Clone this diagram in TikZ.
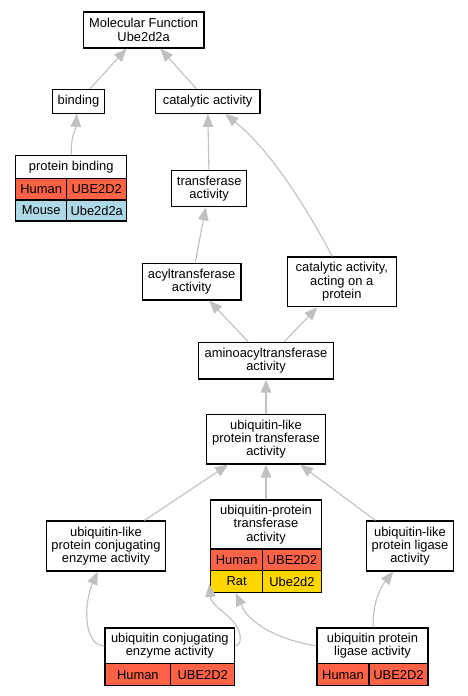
\documentclass[tikz,border=0pt]{standalone}
\usepackage{fontspec}
\setmainfont{Liberation Sans}
\usetikzlibrary{arrows.meta,calc}
\definecolor{edgegray}{HTML}{C0C0C0}
\definecolor{human}{HTML}{FF6347}
\definecolor{mouse}{HTML}{ADD8E6}
\definecolor{rat}{HTML}{FFD700}
\newcommand{\gofont}{\fontsize{12.9pt}{13.3pt}\selectfont}
\begin{document}
\begin{tikzpicture}[x=1pt,y=-1pt,
  box/.style={draw=black, line width=1.2pt, fill=white, align=center, inner sep=0pt, font=\gofont},
  cell/.style={draw=black, line width=1.2pt, inner sep=0pt, font=\gofont},
  edge/.style={draw=edgegray, line width=1.1pt, -{Triangle[length=13pt,width=10.5pt]}},
]
\useasboundingbox[fill=white] (0,0) rectangle (468,696);

% simple boxes
\node[box, minimum width=120.7pt, minimum height=36pt] (mf) at (143.65,30) {Molecular Function\\Ube2d2a};
\node[box, minimum width=51.6pt, minimum height=23.8pt] (bind) at (78.5,101.4) {binding};
\node[box, minimum width=104.7pt, minimum height=23.8pt] (cat) at (207.65,101.4) {catalytic activity};
\node[box, minimum width=75pt, minimum height=36.4pt] (trans) at (209.2,188.5) {transferase\\activity};
\node[box, minimum width=98.7pt, minimum height=36.3pt] (acyl) at (191.65,281.85) {acyltransferase\\activity};
\node[box, minimum width=109pt, minimum height=49.7pt] (caaop) at (341.8,281.85) {catalytic activity,\\acting on a\\protein};
\node[box, minimum width=135.4pt, minimum height=36.7pt] (amino) at (266,360.65) {aminoacyltransferase\\activity};
\node[box, minimum width=118.6pt, minimum height=49.3pt] (ublt) at (266,439.35) {ubiquitin-like\\protein transferase\\activity};
\node[box, minimum width=119.4pt, minimum height=50pt] (ublc) at (106,546) {ubiquitin-like\\protein conjugating\\enzyme activity};
\node[box, minimum width=87.4pt, minimum height=50pt] (ublg) at (410,546) {ubiquitin-like\\protein ligase\\activity};

% protein binding table
\node[box, minimum width=111pt, minimum height=23pt] (pbT) at (71.2,166.8) {protein binding};
\node[cell, fill=human, minimum width=51pt, minimum height=21.7pt] (pbH1) at (41.2,189.15) {Human};
\node[cell, fill=human, minimum width=60pt, minimum height=21.7pt] (pbH2) at (96.7,189.15) {UBE2D2};
\node[cell, fill=mouse, minimum width=51pt, minimum height=21pt] (pbM1) at (41.2,210.5) {Mouse};
\node[cell, fill=mouse, minimum width=60pt, minimum height=21pt] (pbM2) at (96.7,210.5) {Ube2d2a};

% ubiquitin-protein transferase table
\node[box, minimum width=110.6pt, minimum height=49pt] (uptT) at (266,524.5) {ubiquitin-protein\\transferase\\activity};
\node[cell, fill=human, minimum width=52pt, minimum height=21.7pt] (uptH1) at (236.7,559.85) {Human};
\node[cell, fill=human, minimum width=58.6pt, minimum height=21.7pt] (uptH2) at (292,559.85) {UBE2D2};
\node[cell, fill=rat, minimum width=52pt, minimum height=21.6pt] (uptR1) at (236.7,581.5) {Rat};
\node[cell, fill=rat, minimum width=58.6pt, minimum height=21.6pt] (uptR2) at (292,581.5) {Ube2d2};

% ubiquitin conjugating enzyme table
\node[box, minimum width=129.7pt, minimum height=35.7pt] (ucT) at (169.85,645.85) {ubiquitin conjugating\\enzyme activity};
\node[cell, fill=human, minimum width=65.7pt, minimum height=22pt] (ucH1) at (137.85,674.7) {Human};
\node[cell, fill=human, minimum width=64pt, minimum height=22pt] (ucH2) at (202.7,674.7) {UBE2D2};

% ubiquitin protein ligase table
\node[box, minimum width=111pt, minimum height=35.7pt] (ulT) at (372.5,645.85) {ubiquitin protein\\ligase activity};
\node[cell, fill=human, minimum width=52pt, minimum height=22pt] (ulH1) at (343,674.7) {Human};
\node[cell, fill=human, minimum width=59pt, minimum height=22pt] (ulH2) at (398.5,674.7) {UBE2D2};

% straight edges
\draw[edge] (bind) -- (mf);
\draw[edge] (cat) -- (mf);
\draw[edge] (trans) -- (cat);
\draw[edge] (acyl) -- (trans);
\draw[edge] (amino) -- (acyl);
\draw[edge] (amino) -- (caaop);
\draw[edge] (ublt) -- (amino);
\draw[edge] (ublc) -- (ublt);
\draw[edge] (uptT) -- (ublt);
\draw[edge] (ublg) -- (ublt);

% curved edges
\draw[edge] (pbT.north) .. controls ($(pbT.north)+(0,-22)$) and ($(bind.south)+(-3,18)$) .. ($(bind.south)+(-1.8,0)$);
\draw[edge] ($(caaop.north)+(-9.5,0)$) .. controls (305,205) and (270,150) .. ($(cat.south)+(17.6,0)$);
\draw[edge] (ucT.west) .. controls (84,646) and (83,605) .. ($(ublc.south)+(-8.3,0)$);
\draw[edge] (ucT.east) .. controls (242,645) and (243,632) .. (232,620) .. controls (222,610) and (211,604) .. ($(uptR1.south west)+(-0.7,-9)$);
\draw[edge] (ulT.west) .. controls (280,640) and (250,625) .. ($(uptR1.south)+(-1,0)$);
\draw[edge] ($(ulT.north)+(0.8,0)$) .. controls (372,605) and (380,588) .. ($(ublg.south)+(-16.7,0)$);
\end{tikzpicture}
\end{document}
